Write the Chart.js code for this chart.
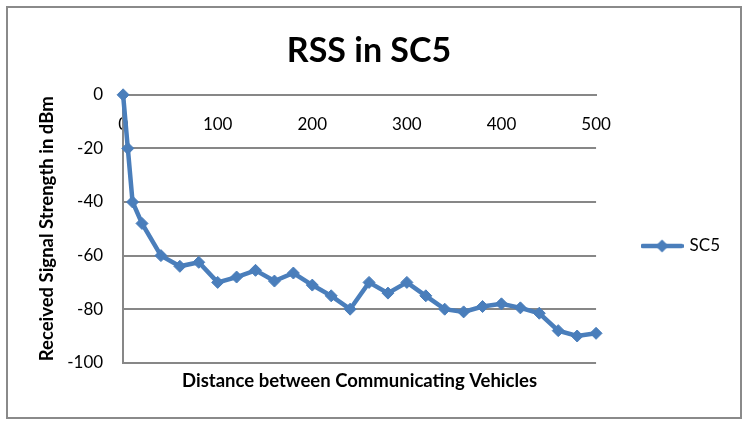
<!DOCTYPE html>
<html lang="en">
<head>
    <meta charset="utf-8">
    <title>RSS in SC5</title>
    <script src="https://cdn.jsdelivr.net/npm/chart.js@4.4.1/dist/chart.umd.min.js"></script>
    <style>
        body { margin: 0; background: #fff; }
        .frame {
            position: absolute;
            left: 6px; top: 6px;
            width: 732px; height: 409px;
            border: 2px solid #8a8a8a;
        }
    </style>
</head>
<body>
    <div class="frame">
        <canvas id="rss-chart" width="732" height="409"></canvas>
    </div>
    <script>
        // distance (x) and received signal strength in dBm (y)
        const distances = [0, 5, 10, 20, 40, 60, 80, 100, 120, 140, 160, 180, 200, 220, 240,
            260, 280, 300, 320, 340, 360, 380, 400, 420, 440, 460, 480, 500];
        const rssValues = [0, -20, -40, -48, -60, -64, -62.5, -70, -68, -65.5, -69.5, -66.5, -71, -75, -80,
            -70, -74, -70, -75, -80, -81, -79, -78, -79.5, -81.5, -88, -90, -89];
        const seriesName = "SC5";
        const xTickStep = 100;
        const yTickStep = 20;

        const blue = "#4a7ebb";
        const gridGray = "#878787";

        Chart.defaults.font.family = "Lato, 'DejaVu Sans', sans-serif";
        Chart.defaults.color = "#000";

        // little legend sample: line with a diamond in the middle
        const sample = document.createElement("canvas");
        sample.width = 43;
        sample.height = 14;
        const sctx = sample.getContext("2d");
        sctx.strokeStyle = blue;
        sctx.lineWidth = 4.5;
        sctx.lineCap = "round";
        sctx.beginPath();
        sctx.moveTo(2, 7);
        sctx.lineTo(41, 7);
        sctx.stroke();
        sctx.fillStyle = blue;
        sctx.beginPath();
        sctx.moveTo(21.5, 0.5);
        sctx.lineTo(28, 7);
        sctx.lineTo(21.5, 13.5);
        sctx.lineTo(15, 7);
        sctx.closePath();
        sctx.fill();

        const points = distances.map((d, i) => ({ x: d, y: rssValues[i] }));

        new Chart(document.getElementById("rss-chart"), {
            type: "line",
            data: {
                datasets: [{
                    label: seriesName,
                    data: points,
                    borderColor: blue,
                    backgroundColor: blue,
                    borderWidth: 4.5,
                    tension: 0,
                    pointStyle: "rectRot",
                    pointRadius: 6,
                    pointBorderWidth: 1,
                    pointBackgroundColor: blue,
                    pointBorderColor: blue,
                    clip: false
                }]
            },
            options: {
                responsive: false,
                animation: false,
                layout: { padding: { left: 0, right: 10, top: 0, bottom: 0 } },
                scales: {
                    x: {
                        type: "linear",
                        position: { y: 0 },
                        min: 0,
                        max: 500,
                        grid: { display: false, drawTicks: false },
                        border: { display: true, color: gridGray, width: 2 },
                        ticks: { stepSize: xTickStep, padding: 20, font: { size: 17 }, maxRotation: 0 },
                        afterFit: (scale) => { scale.height = 0; }
                    },
                    x2: {
                        type: "linear",
                        position: "bottom",
                        min: 0,
                        max: 500,
                        grid: { display: false, drawTicks: false },
                        border: { display: false },
                        ticks: { display: false },
                        title: {
                            display: true,
                            text: "Distance between Communicating Vehicles",
                            font: { size: 18.5, weight: "bold" },
                            padding: { top: 7, bottom: 25 }
                        }
                    },
                    y: {
                        min: -100,
                        max: 0,
                        grid: { color: gridGray, lineWidth: 2, drawTicks: false },
                        border: { display: true, color: gridGray, width: 2 },
                        ticks: { stepSize: yTickStep, padding: 20, font: { size: 17 } },
                        title: {
                            display: true,
                            text: "Received Signal Strength in dBm",
                            font: { size: 18.5, weight: "bold" },
                            padding: { top: 28, bottom: -11 }
                        }
                    }
                },
                plugins: {
                    title: {
                        display: true,
                        text: "RSS in SC5",
                        font: { size: 34, weight: "bold" },
                        padding: { top: 23, bottom: 23 }
                    },
                    legend: {
                        position: "right",
                        fullSize: false,
                        title: { display: true, text: " ", font: { size: 12 }, padding: { top: 0, bottom: 20 } },
                        labels: {
                            usePointStyle: true,
                            pointStyle: sample,
                            pointStyleWidth: 38,
                            padding: 47,
                            font: { size: 17 }
                        }
                    },
                    tooltip: { enabled: false }
                }
            }
        });
    </script>
</body>
</html>
